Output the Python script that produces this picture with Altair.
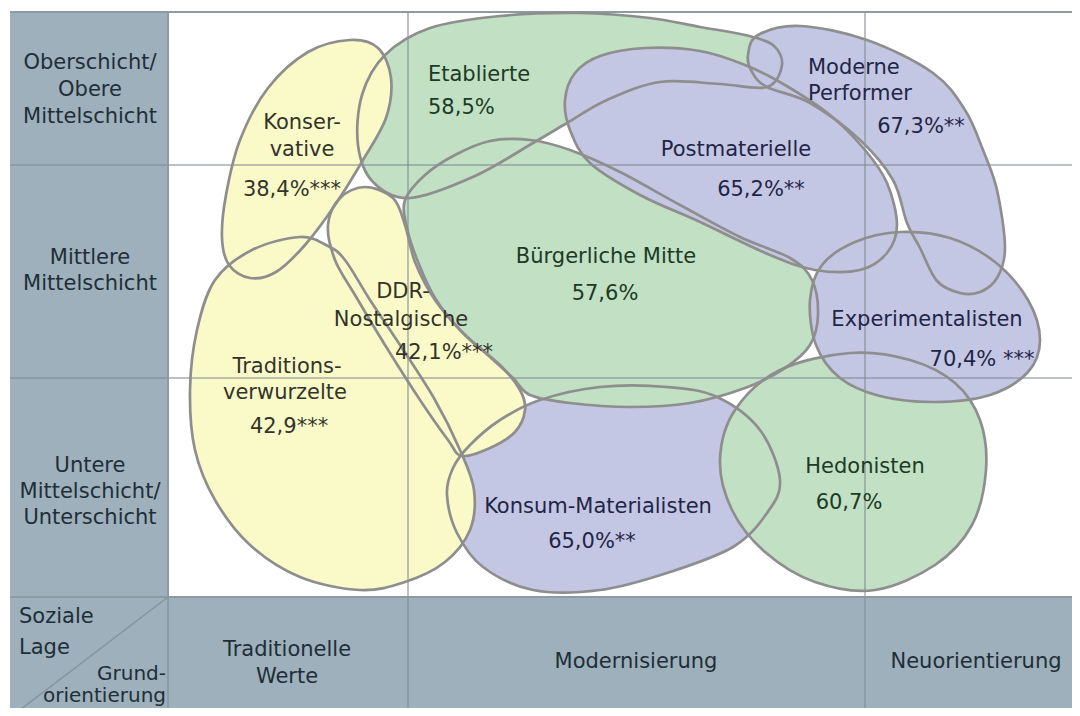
import altair as alt
import pandas as pd

# ---------------- data: milieu outlines (diagram units, y grows downward) -------------
konsum_x = [453, 470, 500, 540, 600, 667, 717, 760, 780, 767, 733, 667, 600, 533, 483, 457, 447]
konsum_y = [468, 445, 420, 400, 387, 387, 397, 430, 480, 513, 547, 573, 590, 590, 567, 533, 495]

hedon_x = [850, 910, 955, 980, 986, 972, 935, 875, 815, 765, 732, 720, 735, 780]
hedon_y = [353, 360, 383, 420, 470, 525, 565, 590, 582, 552, 510, 460, 410, 370]

buerger_x = [405, 425, 455, 490, 530, 570, 620, 680, 740, 790, 812, 818, 810, 785, 745, 690, 630, 570, 530, 513, 490, 460, 435, 418, 407]
buerger_y = [200, 175, 155, 141, 140, 150, 172, 205, 237, 258, 280, 315, 345, 368, 388, 403, 407, 403, 395, 378, 357, 330, 298, 262, 228]

experi_x = [810, 822, 855, 900, 950, 995, 1028, 1040, 1028, 990, 935, 880, 840, 816]
experi_y = [300, 265, 242, 232, 238, 262, 300, 340, 372, 395, 402, 396, 378, 345]

etabl_x = [358, 362, 385, 430, 500, 580, 650, 700, 745, 773, 782, 767, 720, 660, 607, 567, 533, 475, 410, 373]
etabl_y = [145, 95, 55, 28, 16, 13, 18, 27, 35, 45, 65, 87, 84, 82, 100, 123, 143, 176, 198, 182]

postmat_x = [565, 575, 600, 645, 700, 745, 785, 830, 865, 887, 897, 887, 860, 815, 770, 700, 640, 590, 570]
postmat_y = [100, 73, 56, 48, 51, 65, 85, 115, 150, 183, 225, 253, 270, 270, 255, 222, 195, 163, 130]

modperf_x = [748, 758, 800, 867, 933, 965, 983, 997, 1005, 997, 980, 960, 937, 920, 907, 893, 860, 810, 767, 752]
modperf_y = [55, 35, 26, 40, 73, 110, 150, 190, 248, 278, 292, 293, 281, 248, 223, 180, 140, 103, 87, 72]

konserv_x = [350, 378, 391, 386, 363, 335, 305, 276, 250, 229, 222, 226, 240, 268, 308]
konserv_y = [40, 48, 78, 118, 160, 205, 245, 272, 278, 265, 238, 195, 140, 88, 52]

tradi_x = [300, 328, 345, 370, 400, 435, 460, 474, 470, 445, 405, 360, 300, 250, 215, 195, 190, 197, 215, 252]
tradi_y = [237, 246, 260, 300, 345, 400, 450, 490, 530, 562, 582, 590, 577, 545, 500, 450, 390, 330, 280, 250]

ddr_x = [365, 393, 405, 415, 435, 465, 500, 520, 525, 515, 490, 462, 448, 420, 385, 355, 335, 328, 340]
ddr_y = [187, 198, 225, 262, 300, 335, 365, 390, 410, 432, 448, 456, 440, 400, 345, 295, 260, 225, 198]

# drawing order (back to front) and colour family
milieus = ["Konsum-Materialisten", "Hedonisten", "Bürgerliche Mitte", "Experimentalisten",
           "Etablierte", "Postmaterielle", "Moderne Performer", "Konservative",
           "Traditionsverwurzelte", "DDR-Nostalgische"]
families = ["blue", "green", "green", "blue", "green", "blue", "blue", "yellow", "yellow", "yellow"]
outlines_x = [konsum_x, hedon_x, buerger_x, experi_x, etabl_x, postmat_x, modperf_x, konserv_x, tradi_x, ddr_x]
outlines_y = [konsum_y, hedon_y, buerger_y, experi_y, etabl_y, postmat_y, modperf_y, konserv_y, tradi_y, ddr_y]

# ---------------- labels -------------
label_text = ["Konser-", "vative", "38,4%***",
              "DDR-", "Nostalgische", "42,1%***",
              "Traditions-", "verwurzelte", "42,9***",
              "Bürgerliche Mitte", "57,6%",
              "Postmaterielle", "65,2%**",
              "67,3%**",
              "Experimentalisten", "70,4% ***",
              "Hedonisten", "60,7%",
              "Konsum-Materialisten", "65,0%**"]
label_x = [302, 302, 292, 403, 401, 444, 287, 285, 289, 606, 605, 736, 761, 921, 927, 982, 865, 849, 598, 592]
label_y = [123, 150, 190, 292, 320, 353, 367, 393, 427, 257, 294, 150, 190, 127, 320, 360, 467, 503, 507, 542]
label_family = ["yellow"] * 9 + ["green"] * 2 + ["blue"] * 5 + ["green"] * 2 + ["blue"] * 2

left_text = ["Etablierte", "58,5%", "Moderne", "Performer"]
left_x = [428, 428, 808, 808]
left_y = [75, 108, 68, 94]
left_family = ["green", "green", "blue", "blue"]

# ---------------- frame: header cells, grid -------------
header_x1 = [10, 168]
header_x2 = [168, 1080]
header_y1 = [12, 597]
header_y2 = [716, 716]

head_text = ["Oberschicht/", "Obere", "Mittelschicht",
             "Mittlere", "Mittelschicht",
             "Untere", "Mittelschicht/", "Unterschicht",
             "Traditionelle", "Werte", "Modernisierung", "Neuorientierung"]
head_x = [90, 90, 90, 90, 90, 90, 90, 90, 287, 287, 636, 976]
head_y = [63, 90, 117, 258, 284, 466, 492, 518, 650, 677, 662, 662]

corner_text = ["Soziale", "Lage"]
corner_x = [19, 19]
corner_y = [617, 648]
corner_r_text = ["Grund-", "orientierung"]
corner_r_x = [166, 166]
corner_r_y = [674, 696]

vline_x = [408, 865]
vline_y1 = [12, 12]
vline_y2 = [716, 716]
hline_y = [165, 378]
hline_x1 = [10, 10]
hline_x2 = [1080, 1080]

# ---------------- build ---------------
fill_colors = {"yellow": "#FAFAC9", "green": "#C1E0C4", "blue": "#C4C7E3"}
text_colors = {"yellow": "#33332a", "green": "#1d3a26", "blue": "#1f2547"}
FONT = "DejaVu Sans"
FS = 21

xs = alt.Scale(domain=[8, 1072], nice=False, zero=False)
ys = alt.Scale(domain=[8, 708], nice=False, zero=False, reverse=True)


def X(f="x"):
    return alt.X(f"{f}:Q", scale=xs, axis=None)


def Y(f="y"):
    return alt.Y(f"{f}:Q", scale=ys, axis=None)


layers = []

head_df = pd.DataFrame({"x": header_x1, "x2": header_x2, "y": header_y1, "y2": header_y2})
layers.append(alt.Chart(head_df).mark_rect(color="#9DB0BB", clip=True).encode(
    x=X(), x2="x2:Q", y=Y(), y2="y2:Q"))

outline_rows = []
for name, fam, xs_, ys_ in zip(milieus, families, outlines_x, outlines_y):
    d = pd.DataFrame({"x": xs_, "y": ys_, "i": list(range(len(xs_)))})
    d["milieu"] = name
    outline_rows.append(d)
    layers.append(alt.Chart(d).mark_line(
        interpolate="cardinal-closed", fill=fill_colors[fam], stroke=fill_colors[fam],
        strokeWidth=0.5).encode(x=X(), y=Y(), order="i:Q"))

# grid lines
vl = pd.DataFrame({"x": vline_x, "y": vline_y1, "y2": vline_y2})
hl = pd.DataFrame({"x": hline_x1, "x2": hline_x2, "y": hline_y})
layers.append(alt.Chart(vl).mark_rule(color="#7d8a90", strokeWidth=1.5, opacity=0.7, clip=True).encode(
    x=X(), y=Y(), y2="y2:Q"))
layers.append(alt.Chart(hl).mark_rule(color="#7d8a90", strokeWidth=1.5, opacity=0.7, clip=True).encode(
    x=X(), x2="x2:Q", y=Y()))
frame = pd.DataFrame({"x": [168, 10, 10], "x2": [168, 1080, 1080], "y": [12, 597, 12], "y2": [716, 597, 12]})
layers.append(alt.Chart(frame).mark_rule(color="#8c9aa2", strokeWidth=2, clip=True).encode(
    x=X(), x2="x2:Q", y=Y(), y2="y2:Q"))
diag = pd.DataFrame({"x": [168], "x2": [12], "y": [597], "y2": [716]})
layers.append(alt.Chart(diag).mark_rule(color="#8494a0", strokeWidth=1.5, clip=True).encode(
    x=X(), x2="x2:Q", y=Y(), y2="y2:Q"))

# outlines on top
all_out = pd.concat(outline_rows, ignore_index=True)
layers.append(alt.Chart(all_out).mark_line(
    interpolate="cardinal-closed", stroke="#8e8e8e", strokeWidth=2.7).encode(
    x=X(), y=Y(), order="i:Q", detail="milieu:N"))

# labels
lab = pd.DataFrame({"t": label_text, "x": label_x, "y": label_y,
                    "c": [text_colors[f] for f in label_family]})
layers.append(alt.Chart(lab).mark_text(font=FONT, fontSize=FS, align="center", baseline="middle").encode(
    x=X(), y=Y(), text="t:N", color=alt.Color("c:N", scale=None)))
labl = pd.DataFrame({"t": left_text, "x": left_x, "y": left_y,
                     "c": [text_colors[f] for f in left_family]})
layers.append(alt.Chart(labl).mark_text(font=FONT, fontSize=FS, align="left", baseline="middle").encode(
    x=X(), y=Y(), text="t:N", color=alt.Color("c:N", scale=None)))

hd = pd.DataFrame({"t": head_text, "x": head_x, "y": head_y})
layers.append(alt.Chart(hd).mark_text(font=FONT, fontSize=FS, align="center", baseline="middle",
                                      color="#1f2e38").encode(x=X(), y=Y(), text="t:N"))
cl = pd.DataFrame({"t": corner_text, "x": corner_x, "y": corner_y})
layers.append(alt.Chart(cl).mark_text(font=FONT, fontSize=FS, align="left", baseline="middle",
                                      color="#1f2e38").encode(x=X(), y=Y(), text="t:N"))
cr = pd.DataFrame({"t": corner_r_text, "x": corner_r_x, "y": corner_r_y})
layers.append(alt.Chart(cr).mark_text(font=FONT, fontSize=20, align="right", baseline="middle",
                                      color="#1f2e38").encode(x=X(), y=Y(), text="t:N"))

chart = alt.layer(*layers).properties(
    width=1064, height=700,
    autosize=alt.AutoSizeParams(type="none"),
    padding=0, background="white",
).configure_view(stroke=None)

chart.save("out.html", embed_options={"renderer": "svg", "actions": False})
